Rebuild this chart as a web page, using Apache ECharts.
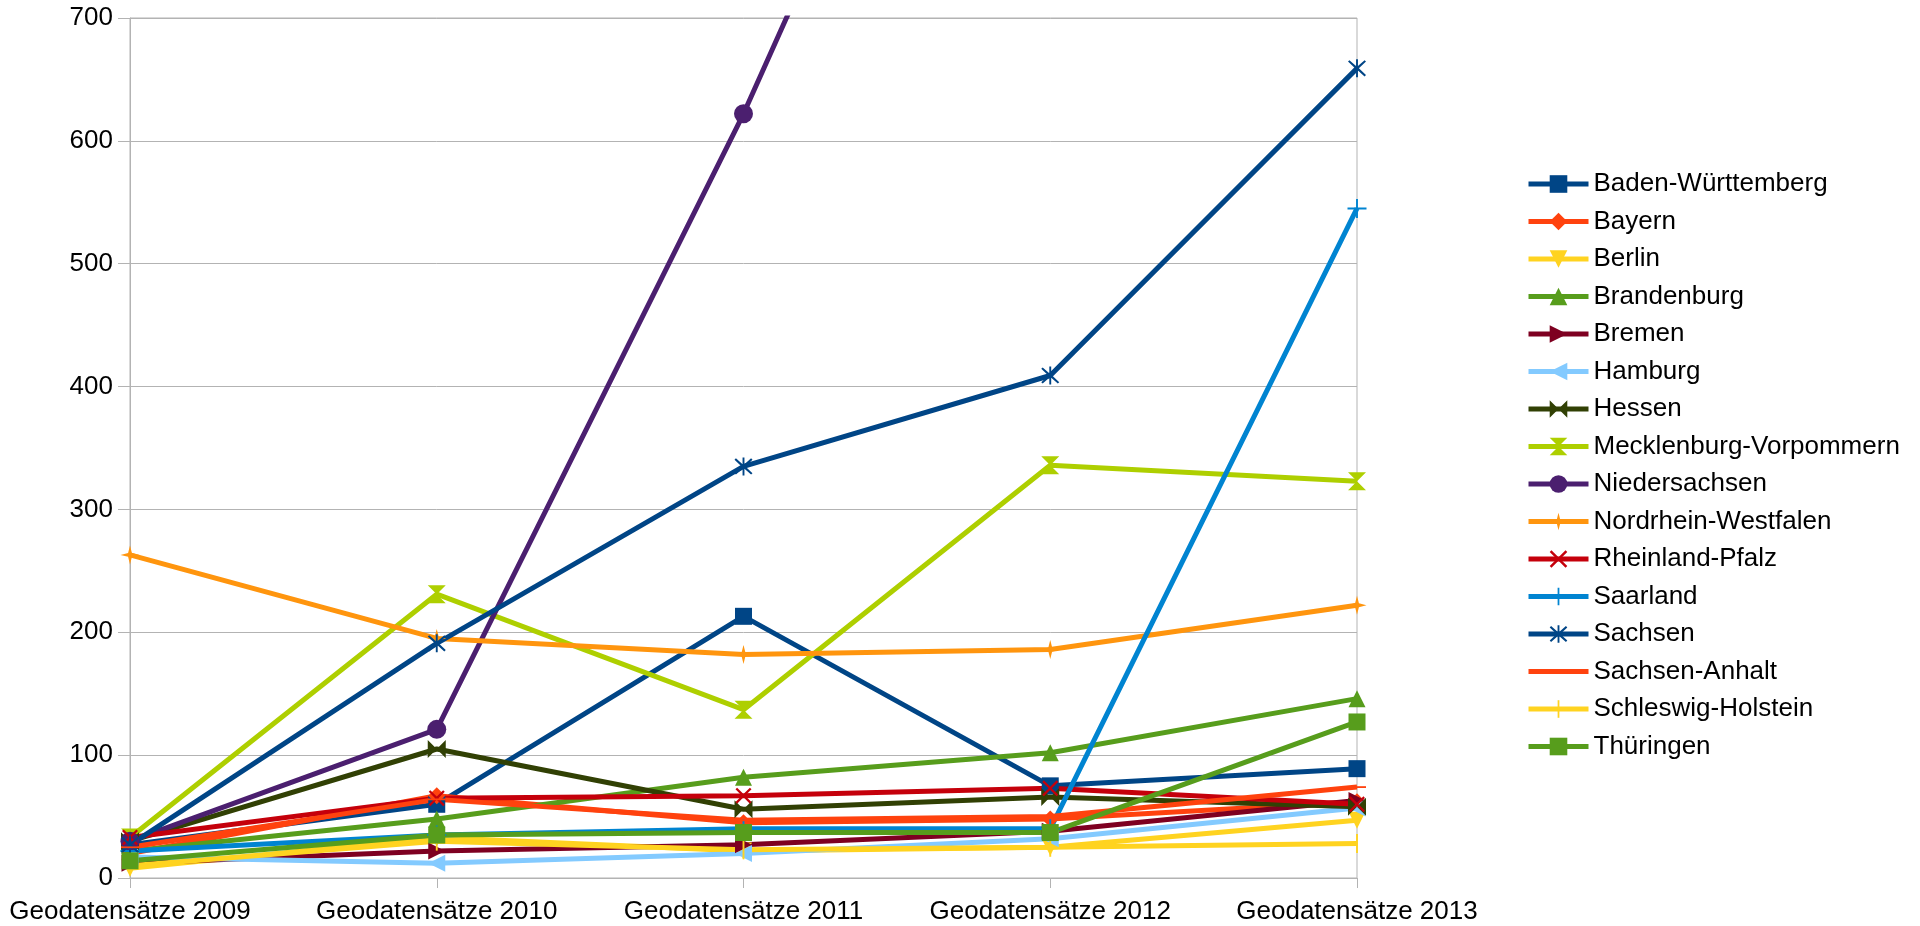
<!DOCTYPE html>
<html>
<head>
<meta charset="utf-8">
<script src="https://cdn.jsdelivr.net/npm/echarts@6/dist/echarts.min.js"></script>
<style>html,body{margin:0;padding:0;background:#fff;}#c{width:1920px;height:926px;}</style>
</head>
<body>
<div id="c"></div>
<script>
var categories = ['Geodatensätze 2009','Geodatensätze 2010','Geodatensätze 2011','Geodatensätze 2012','Geodatensätze 2013'];
var yTicks = [0,100,200,300,400,500,600,700];

var badenWuerttemberg = [27, 60, 213, 75, 89];
var bayern            = [20, 67, 45, 48, 62];
var berlin            = [8, 33, 22, 25, 47];
var brandenburg       = [22, 48, 82, 102, 146];
var bremen            = [12, 22, 27, 38, 63];
var hamburg           = [17, 12, 20, 32, 57];
var hessen            = [30, 105, 56, 66, 58];
var mecklenburgVorp   = [33, 231, 137, 336, 323];
var niedersachsen     = [30, 121, 622, 1180, 1400];
var nordrheinWestf    = [263, 195, 182, 186, 222];
var rheinlandPfalz    = [33, 65, 67, 73, 60];
var saarland          = [22, 35, 40, 40, 545];
var sachsen           = [27, 191, 335, 409, 659];
var sachsenAnhalt     = [25, 64, 47, 50, 74];
var schleswigHolstein = [10, 30, 23, 25, 28];
var thueringen        = [14, 35, 37, 37, 127];

var seriesNames = ['Baden-Württemberg','Bayern','Berlin','Brandenburg','Bremen','Hamburg','Hessen','Mecklenburg-Vorpommern','Niedersachsen','Nordrhein-Westfalen','Rheinland-Pfalz','Saarland','Sachsen','Sachsen-Anhalt','Schleswig-Holstein','Thüringen'];
var seriesData = [badenWuerttemberg,bayern,berlin,brandenburg,bremen,hamburg,hessen,mecklenburgVorp,niedersachsen,nordrheinWestf,rheinlandPfalz,saarland,sachsen,sachsenAnhalt,schleswigHolstein,thueringen];
var colors = ['#004586','#ff420e','#ffd320','#579d1c','#7e0021','#83caff','#314004','#aecf00','#4b1f6f','#ff950e','#c5000b','#0084d1','#004586','#ff420e','#ffd320','#579d1c'];
var box = 'M0,0 L0,0 M20,20 L20,20 ';
var symbols = [
  'rect',
  'diamond',
  'path://M0,0 L20,0 L10,20 Z',
  'path://M10,0 L20,20 L0,20 Z',
  'path://M0,0 L20,10 L0,20 Z',
  'path://M20,0 L0,10 L20,20 Z',
  'path://M0,0 L10,10 L0,20 Z M20,0 L20,20 L10,10 Z',
  'path://M0,0 L20,0 L10,10 Z M0,20 L10,10 L20,20 Z',
  'circle',
  'path://M10,0 L12,8 L20,10 L12,12 L10,20 L8,12 L0,10 L8,8 Z',
  'path://M2,0 L10,8 L18,0 L20,2 L12,10 L20,18 L18,20 L10,12 L2,20 L0,18 L8,10 L0,2 Z',
  'path://M9,0 L11,0 L11,9 L20,9 L20,11 L11,11 L11,20 L9,20 L9,11 L0,11 L0,9 L9,9 Z',
  'path://M2,1 L9,7.5 L9,0 L11,0 L11,7.5 L18,1 L19.5,2.5 L12,10 L19.5,17.5 L18,19 L11,12.5 L11,20 L9,20 L9,12.5 L2,19 L0.5,17.5 L8,10 L0.5,2.5 Z',
  'path://' + box + 'M0,9 L20,9 L20,11 L0,11 Z',
  'path://' + box + 'M9,0 L11,0 L11,20 L9,20 Z',
  'rect'
];
var symbolSizes = [17,17,17,17,17,17,18,18,19,19,16,19,18,18,19,17];

var font = 'Liberation Sans, Arial, sans-serif';
var series = seriesNames.map(function(n,i){
  return {
    name: n, type: 'line', data: seriesData[i],
    symbol: symbols[i], symbolSize: symbolSizes[i], showSymbol: true,
    clip: true,
    lineStyle: {color: colors[i], width: 5},
    itemStyle: {color: colors[i]},
    emphasis: {disabled: true}
  };
});

var chart = echarts.init(document.getElementById('c'));
chart.setOption({
  animation: false,
  backgroundColor: '#ffffff',
  grid: {left: 130, right: 563, top: 18, bottom: 48, show: true, borderColor: '#b3b3b3', borderWidth: 1, containLabel: false},
  xAxis: {
    type: 'category', data: categories, boundaryGap: false,
    axisLine: {lineStyle: {color: '#b3b3b3', width: 1}},
    axisTick: {show: true, alignWithLabel: true, length: 10, lineStyle: {color: '#b3b3b3'}},
    axisLabel: {color: '#000', fontSize: 26, fontFamily: font, margin: 21, interval: 0},
    splitLine: {show: false}
  },
  yAxis: {
    type: 'value', min: yTicks[0], max: yTicks[yTicks.length-1], interval: 100,
    axisLine: {show: true, lineStyle: {color: '#b3b3b3', width: 1}},
    axisTick: {show: true, length: 12, lineStyle: {color: '#b3b3b3'}},
    axisLabel: {color: '#000', fontSize: 26, fontFamily: font, margin: 17},
    splitLine: {show: true, lineStyle: {color: '#b3b3b3', width: 1}}
  },
  legend: {
    orient: 'vertical', left: 1521, top: 166,
    itemWidth: 60, itemHeight: 22, itemGap: 11.5,
    lineStyle: {width: 5},
    textStyle: {color: '#000', fontSize: 26, fontFamily: font},
    data: seriesNames
  },
  series: series
});
</script>
</body>
</html>
